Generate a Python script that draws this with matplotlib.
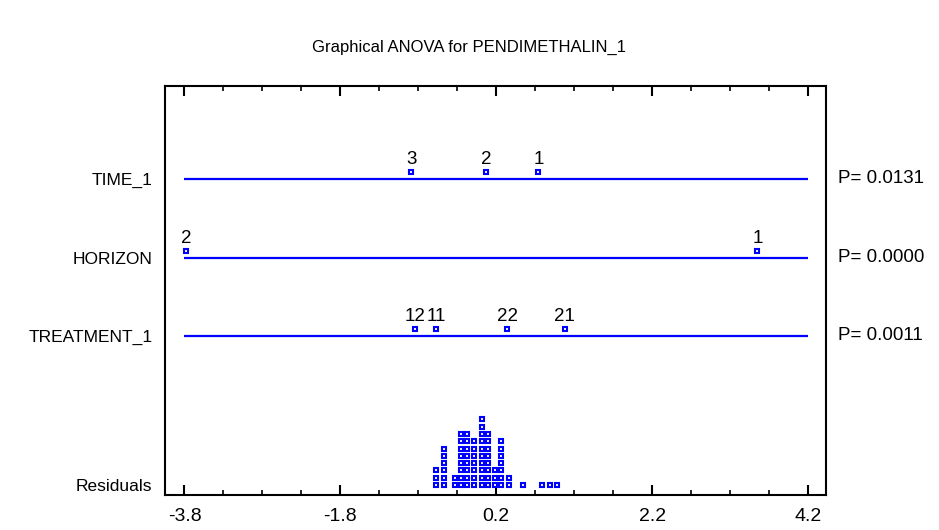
#!/usr/bin/env python3
# -*- coding: utf-8 -*-
"""
Graphical ANOVA for PENDIMETHALIN_1: scaled factor effects and residual dot plot.
"""
import numpy as np
import matplotlib
matplotlib.use("Agg")
import matplotlib.pyplot as plt
from matplotlib.ticker import FixedLocator
import matplotlib.transforms as mtransforms

plt.rcParams["font.family"] = ["Liberation Sans", "DejaVu Sans"]

# factor rows (top to bottom)
factors = ["TIME_1", "HORIZON", "TREATMENT_1"]
p_values = ["P= 0.0131", "P= 0.0000", "P= 0.0011"]

# scaled level effects
time_levels = ["3", "2", "1"]
time_effects = [-0.89, 0.07, 0.74]
horizon_levels = ["2", "1"]
horizon_effects = [-3.78, 3.55]
treatment_levels = ["12", "11", "22", "21"]
treatment_effects = [-0.84, -0.57, 0.34, 1.08]

# residuals dot plot: bin centres and number of stacked points
resid_bins = [-0.57, -0.465, -0.336, -0.251, -0.17, -0.087, 0.015, 0.092,
              0.182, 0.259, 0.366, 0.549, 0.785, 0.892, 0.978]
resid_counts = [3, 6, 2, 8, 8, 7, 10, 8, 3, 7, 2, 1, 1, 1, 1]

x_ticks = [-3.8, -1.8, 0.2, 2.2, 4.2]

BLUE = "#0000ff"


def main():
    fig = plt.figure(figsize=(9.39, 5.30), dpi=100)
    ax = fig.add_axes([0.1757, 0.066, 0.704, 0.772])

    # vertical layout in pixel-like units from the bottom spine
    row_y = [316, 237, 159]
    resid_y = 10
    stack_step = 7.3
    mk_off = 7

    groups = [(time_levels, time_effects),
              (horizon_levels, horizon_effects),
              (treatment_levels, treatment_effects)]

    mk = dict(ls="none", marker="s", ms=3.4, mfc="white", mec=BLUE, mew=1.5,
              zorder=3)

    for y, (labels, vals) in zip(row_y, groups):
        ax.plot([x_ticks[0], x_ticks[-1]], [y, y], color=BLUE, lw=1.6,
                solid_capstyle="butt", zorder=2)
        ax.plot(vals, [y + mk_off] * len(vals), **mk)
        for lab, v in zip(labels, vals):
            ax.annotate(lab, (v, y + mk_off), xytext=(0, 2.5),
                        textcoords="offset points", ha="center", va="bottom",
                        fontsize=13.5)

    # residual dots stacked in each bin
    rx, ry = [], []
    for b, c in zip(resid_bins, resid_counts):
        for k in range(c):
            rx.append(b)
            ry.append(resid_y + k * stack_step)
    ax.plot(rx, ry, **mk)

    ax.set_xlim(-4.05, 4.43)
    ax.set_ylim(0, 409)

    ax.xaxis.set_major_locator(FixedLocator(x_ticks))
    ax.xaxis.set_minor_locator(FixedLocator(np.arange(-3.8, 4.25, 0.5)))
    ax.set_xticklabels([f"{t:.1f}" for t in x_ticks], fontsize=14)
    ax.tick_params(axis="x", which="major", direction="in", length=7,
                   width=1.5, top=True, pad=9)
    ax.tick_params(axis="x", which="minor", direction="in", length=3.5,
                   width=1.2, top=True)

    ax.set_yticks(row_y + [resid_y])
    ax.set_yticklabels(factors + ["Residuals"], fontsize=12.5)
    ax.tick_params(axis="y", length=0, pad=9)

    for s in ax.spines.values():
        s.set_linewidth(1.5)

    trans = mtransforms.blended_transform_factory(ax.transAxes, ax.transData)
    for y, p in zip(row_y, p_values):
        ax.text(1.018, y, p, transform=trans, ha="left", va="center",
                fontsize=13.5)

    fig.text(0.5, 1 - 47 / 530, "Graphical ANOVA for PENDIMETHALIN_1",
             ha="center", va="center", fontsize=12)

    fig.savefig("out.png", dpi=100)
    plt.close(fig)


if __name__ == "__main__":
    main()
